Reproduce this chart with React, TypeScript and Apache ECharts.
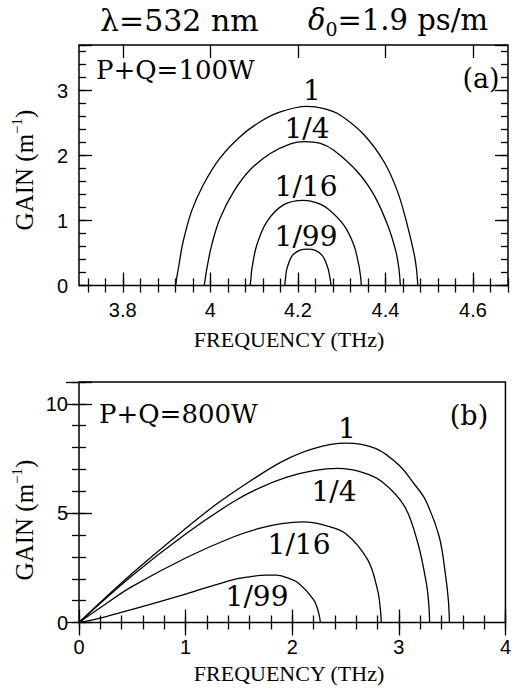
import React, { useEffect, useRef } from "react";
import * as echarts from "echarts";

// ---------- Panel (a): P+Q = 100 W, frequency (THz) vs gain (1/m)
const curveA_1: number[][] = [
  [3.921, 0], [3.924, 0.15], [3.928, 0.3], [3.937, 0.65], [3.957, 1.14], [3.984, 1.55],
  [4.022, 1.96], [4.068, 2.29], [4.114, 2.52], [4.16, 2.67], [4.22, 2.755], [4.26, 2.72],
  [4.297, 2.62], [4.351, 2.32], [4.397, 1.9], [4.428, 1.44], [4.45, 0.93], [4.466, 0.47],
  [4.471, 0.25], [4.474, 0],
];
const curveA_4: number[][] = [
  [3.986, 0], [3.989, 0.13], [3.992, 0.26], [4.003, 0.62], [4.022, 1.03], [4.053, 1.44],
  [4.091, 1.78], [4.137, 2.03], [4.183, 2.18], [4.215, 2.215], [4.25, 2.19], [4.282, 2.08],
  [4.336, 1.75], [4.374, 1.39], [4.405, 0.93], [4.424, 0.52], [4.431, 0.25], [4.434, 0],
];
const curveA_16: number[][] = [
  [4.091, 0], [4.093, 0.13], [4.095, 0.26], [4.106, 0.62], [4.129, 0.98], [4.167, 1.24],
  [4.213, 1.31], [4.24, 1.28], [4.267, 1.19], [4.305, 0.93], [4.328, 0.62], [4.339, 0.32],
  [4.343, 0.15], [4.345, 0],
];
const curveA_99: number[][] = [
  [4.17, 0], [4.172, 0.13], [4.175, 0.26], [4.187, 0.46], [4.205, 0.545], [4.222, 0.56],
  [4.24, 0.54], [4.256, 0.46], [4.268, 0.28], [4.273, 0.13], [4.276, 0],
];

// ---------- Panel (b): P+Q = 800 W
const curveB_1: number[][] = [
  [0, 0], [0.5, 2.25], [1.0, 4.3], [1.3, 5.45], [1.6, 6.45], [1.9, 7.35], [2.2, 7.95],
  [2.5, 8.2], [2.78, 7.96], [3.0, 7.2], [3.15, 6.3], [3.25, 5.6], [3.38, 3.9],
  [3.44, 2.1], [3.465, 1.0], [3.475, 0],
];
const curveB_4: number[][] = [
  [0, 0], [0.5, 2.15], [1.0, 4.05], [1.44, 5.5], [1.69, 6.15], [1.95, 6.65], [2.2, 6.95],
  [2.43, 7.05], [2.65, 6.88], [2.84, 6.45], [3.055, 5.3], [3.18, 3.6], [3.258, 1.8],
  [3.28, 0.9], [3.289, 0],
];
const curveB_16: number[][] = [
  [0, 0], [0.25, 0.85], [0.5, 1.65], [1.0, 2.95], [1.44, 3.9], [1.69, 4.3], [1.9, 4.52],
  [2.1, 4.6], [2.3, 4.45], [2.5, 4.07], [2.71, 2.85], [2.8, 1.5], [2.825, 0.7], [2.835, 0],
];
const curveB_99: number[][] = [
  [0, 0], [0.2, 0.2], [0.5, 0.6], [1.0, 1.3], [1.44, 1.95], [1.6, 2.09], [1.75, 2.17],
  [1.85, 2.17], [1.95, 2.05], [2.06, 1.8], [2.2, 1.05], [2.245, 0.5], [2.265, 0],
];

// ---------- Axes ranges and tick labels
const xRangeA = [3.7, 4.68];
const yRangeA = [0, 3.7];
const xRangeB = [0, 4];
const yRangeB = [0, 11];
const yLabelsA = ["0", "1", "2", "3"];
const xLabelsB = ["0", "1", "2", "3", "4"];
const yLabelsB = ["0", "5", "10"];
// panel (a) frequency axis positions, 0.02 THz apart (3.70 ... 4.68)
const freqStepsA: string[] = [];
for (let i = 0; i < 50; i++) freqStepsA.push((3.7 + i * 0.02).toFixed(2));

const SERIF = "Liberation Serif";
const WIDE = "DejaVu Serif";
const SANS = "Liberation Sans";
const MAJOR = 13;
const MINOR = 7;
const GRID_W = 429;
const GRID_H = 240.5;

function fmt(labels: string[]) {
  return (v: number) => {
    const s = String(Math.round(v * 1000) / 1000);
    return labels.includes(s) ? s : "";
  };
}

function curve(xi: number, yi: number, data: number[][]) {
  return {
    type: "line",
    xAxisIndex: xi,
    yAxisIndex: yi,
    data,
    showSymbol: false,
    smooth: 0.35,
    lineStyle: { color: "#000", width: 1.3 },
    silent: true,
    z: 3,
  };
}

const axisLabelStyle = { color: "#000", fontFamily: SANS, fontSize: 20 };
const tickLine = { color: "#000", width: 1.3 };
const hidden = { show: false };

function tick(len: number, interval?: any) {
  const t: any = { show: true, inside: true, length: len, lineStyle: tickLine };
  if (interval !== undefined) t.interval = interval;
  return t;
}

function valueAxis(
  kind: "x" | "y", gi: number, range: number[], interval: number, len: number,
  position: string, labels?: string[], margin = 11,
) {
  return {
    type: "value",
    gridIndex: gi,
    position,
    offset: 0,
    min: range[0],
    max: range[1],
    interval,
    axisLine: hidden,
    splitLine: hidden,
    axisTick: tick(len),
    axisLabel: labels
      ? { ...axisLabelStyle, margin, formatter: fmt(labels) }
      : { show: false },
  };
}

function catAxisA(position: string, len: number, pick: (i: number) => boolean, withLabels: boolean) {
  return {
    type: "category",
    gridIndex: 0,
    position,
    offset: 0,
    boundaryGap: false,
    data: freqStepsA,
    axisLine: hidden,
    splitLine: hidden,
    axisTick: tick(len, (i: number) => pick(i)),
    axisLabel: withLabels
      ? {
          ...axisLabelStyle,
          margin: 14,
          interval: (i: number) => pick(i),
          formatter: (v: string) => String(parseFloat(v)),
        }
      : { show: false },
  };
}

const isMinorA = (i: number) => i % 2 === 1;
const isMajorA = (i: number) => i % 10 === 5;

function txt(text: string, x: number, y: number, size: number, align = "center", family = WIDE) {
  return {
    type: "text",
    x,
    y,
    silent: true,
    style: { text, fill: "#000", fontFamily: family, fontSize: size, align, verticalAlign: "middle" },
  };
}

function gainName(x: number, y: number) {
  return {
    type: "text",
    x,
    y,
    rotation: Math.PI / 2,
    silent: true,
    style: {
      text: "GAIN (m{sup|−1})",
      fill: "#000",
      fontFamily: SERIF,
      fontSize: 25,
      lineHeight: 29,
      align: "center",
      verticalAlign: "middle",
      rich: {
        sup: { fontFamily: SERIF, fontSize: 15, lineHeight: 15, verticalAlign: "top", fill: "#000" },
      },
    },
  };
}

export default function App() {
  const ref = useRef<HTMLDivElement>(null);
  useEffect(() => {
    if (!ref.current) return;
    const chart = echarts.init(ref.current, null, { renderer: "svg" });
    const option: any = {
      animation: false,
      backgroundColor: "#fff",
      grid: [
        { left: 79, top: 45, width: GRID_W, height: GRID_H, show: true, borderColor: "#000", borderWidth: 1.5 },
        { left: 79, top: 382, width: GRID_W, height: GRID_H, show: true, borderColor: "#000", borderWidth: 1.5 },
      ],
      xAxis: [
        // 0: data axis of panel (a)
        {
          type: "value", gridIndex: 0, position: "bottom", offset: 0, min: xRangeA[0], max: xRangeA[1],
          axisLine: hidden, axisTick: hidden, splitLine: hidden, axisLabel: hidden,
        },
        // 1-4: tick/label axes of panel (a)
        catAxisA("bottom", MINOR, isMinorA, false),
        catAxisA("bottom", MAJOR, isMajorA, true),
        catAxisA("top", MINOR, isMinorA, false),
        catAxisA("top", MAJOR, isMajorA, false),
        // 5: data axis of panel (b) with major ticks + labels
        { ...valueAxis("x", 1, xRangeB, 1, MAJOR, "bottom", xLabelsB, 14) },
        valueAxis("x", 1, xRangeB, 0.2, MINOR, "bottom"),
        valueAxis("x", 1, xRangeB, 1, MAJOR, "top"),
        valueAxis("x", 1, xRangeB, 0.2, MINOR, "top"),
      ],
      yAxis: [
        valueAxis("y", 0, yRangeA, 1, MAJOR, "left", yLabelsA),
        valueAxis("y", 0, yRangeA, 0.2, MINOR, "left"),
        valueAxis("y", 0, yRangeA, 1, MAJOR, "right"),
        valueAxis("y", 0, yRangeA, 0.2, MINOR, "right"),
        valueAxis("y", 1, yRangeB, 5, MAJOR, "left", yLabelsB),
        valueAxis("y", 1, yRangeB, 1, MINOR, "left"),
        valueAxis("y", 1, yRangeB, 5, MAJOR, "right"),
        valueAxis("y", 1, yRangeB, 1, MINOR, "right"),
      ],
      series: [
        curve(0, 0, curveA_1), curve(0, 0, curveA_4), curve(0, 0, curveA_16), curve(0, 0, curveA_99),
        curve(5, 4, curveB_1), curve(5, 4, curveB_4), curve(5, 4, curveB_16), curve(5, 4, curveB_99),
      ],
      graphic: {
        elements: [
          txt("λ=532 nm", 100, 20, 30, "left"),
          {
            type: "text", x: 308, y: 20, silent: true,
            style: {
              text: "{d|δ}{s|0}=1.9 ps/m",
              fill: "#000", fontFamily: WIDE, fontSize: 29, lineHeight: 36,
              align: "left", verticalAlign: "middle",
              rich: {
                d: { fontFamily: WIDE, fontSize: 29, fontStyle: "italic", lineHeight: 36, fill: "#000" },
                s: { fontFamily: WIDE, fontSize: 19, lineHeight: 19, verticalAlign: "bottom", fill: "#000" },
              },
            },
          },
          txt("P+Q=100W", 96, 70, 26, "left"),
          txt("(a)", 481, 78, 27),
          txt("1", 312, 90, 28),
          txt("1/4", 307, 128, 28),
          txt("1/16", 306, 186, 28),
          txt("1/99", 306, 236, 28),
          txt("FREQUENCY (THz)", 289, 339, 22, "center", SERIF),
          gainName(24, 170),
          txt("P+Q=800W", 99, 414, 26, "left"),
          txt("(b)", 469, 415, 27),
          txt("1", 347, 428, 28),
          txt("1/4", 334, 491, 28),
          txt("1/16", 299, 544, 28),
          txt("1/99", 257, 596, 28),
          txt("FREQUENCY (THz)", 289, 673, 22, "center", SERIF),
          gainName(24, 520),
        ],
      },
    };
    chart.setOption(option);
    return () => chart.dispose();
  }, []);
  return (
    <div
      ref={ref}
      style={{ position: "fixed", left: 0, top: 0, width: 514, height: 690, background: "#fff" }}
    />
  );
}
